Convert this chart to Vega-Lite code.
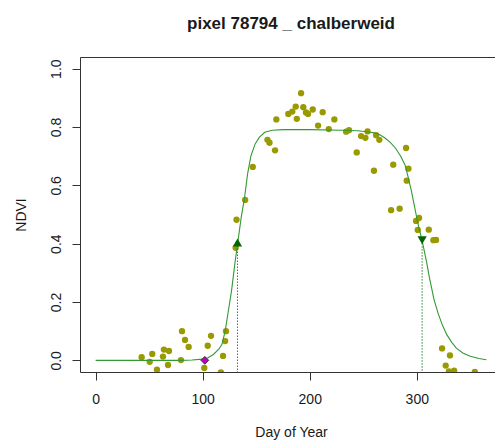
{
  "$schema": "https://vega.github.io/schema/vega-lite/v6.json",
  "autosize": {"type": "none"},
  "width": 422,
  "height": 315,
  "padding": {"left": 80, "top": 57, "right": -7, "bottom": 69},
  "background": "white",
  "config": {
    "font": "Liberation Sans",
    "view": {"stroke": "#333", "strokeWidth": 1},
    "axis": {
      "grid": false, "domain": false, "tickColor": "#333", "tickSize": 8,
      "labelFont": "Liberation Sans", "labelFontSize": 14, "labelColor": "#1a1a1a",
      "titleFont": "Liberation Sans", "titleFontSize": 14, "titleFontWeight": "normal", "titleColor": "#1a1a1a"
    }
  },
  "title": {
    "text": "pixel 78794 _ chalberweid",
    "font": "Liberation Sans", "fontSize": 17, "fontWeight": "bold", "color": "#1a1a1a",
    "anchor": "middle", "frame": "group", "baseline": "alphabetic", "offset": 11
  },
  "datasets": {
    "obs": [
      {"day": 43.0, "ndvi": 0.011}, {"day": 50.5, "ndvi": -0.005}, {"day": 52.9, "ndvi": 0.022},
      {"day": 57.3, "ndvi": -0.032}, {"day": 62.9, "ndvi": 0.013}, {"day": 63.8, "ndvi": 0.037},
      {"day": 68.5, "ndvi": 0.032}, {"day": 67.6, "ndvi": -0.016}, {"day": 80.7, "ndvi": 0.100},
      {"day": 83.5, "ndvi": 0.070}, {"day": 86.9, "ndvi": 0.046}, {"day": 79.7, "ndvi": 0.001},
      {"day": 101.5, "ndvi": -0.026}, {"day": 104.7, "ndvi": 0.050}, {"day": 107.8, "ndvi": 0.084},
      {"day": 117.0, "ndvi": -0.041}, {"day": 119.0, "ndvi": 0.015}, {"day": 121.0, "ndvi": 0.066},
      {"day": 121.8, "ndvi": 0.100}, {"day": 130.8, "ndvi": 0.386}, {"day": 131.6, "ndvi": 0.482},
      {"day": 139.7, "ndvi": 0.550}, {"day": 146.8, "ndvi": 0.663}, {"day": 160.5, "ndvi": 0.756},
      {"day": 162.4, "ndvi": 0.746}, {"day": 167.6, "ndvi": 0.720}, {"day": 168.8, "ndvi": 0.826},
      {"day": 180.0, "ndvi": 0.845}, {"day": 183.7, "ndvi": 0.853}, {"day": 186.9, "ndvi": 0.870},
      {"day": 187.9, "ndvi": 0.828}, {"day": 191.9, "ndvi": 0.916}, {"day": 194.0, "ndvi": 0.868},
      {"day": 196.5, "ndvi": 0.850}, {"day": 198.4, "ndvi": 0.845}, {"day": 202.8, "ndvi": 0.860},
      {"day": 207.8, "ndvi": 0.805}, {"day": 212.1, "ndvi": 0.851}, {"day": 217.8, "ndvi": 0.793},
      {"day": 223.0, "ndvi": 0.826}, {"day": 234.0, "ndvi": 0.784}, {"day": 236.7, "ndvi": 0.789},
      {"day": 243.9, "ndvi": 0.713}, {"day": 248.0, "ndvi": 0.769}, {"day": 252.0, "ndvi": 0.763},
      {"day": 254.0, "ndvi": 0.785}, {"day": 260.0, "ndvi": 0.650}, {"day": 262.0, "ndvi": 0.772},
      {"day": 265.0, "ndvi": 0.756}, {"day": 276.0, "ndvi": 0.515}, {"day": 278.0, "ndvi": 0.671},
      {"day": 284.0, "ndvi": 0.520}, {"day": 290.0, "ndvi": 0.728}, {"day": 290.6, "ndvi": 0.616},
      {"day": 292.2, "ndvi": 0.657}, {"day": 299.3, "ndvi": 0.478}, {"day": 302.1, "ndvi": 0.488},
      {"day": 300.9, "ndvi": 0.447}, {"day": 311.2, "ndvi": 0.448}, {"day": 315.5, "ndvi": 0.412},
      {"day": 318.0, "ndvi": 0.413}, {"day": 323.6, "ndvi": 0.041}, {"day": 331.0, "ndvi": 0.017},
      {"day": 327.0, "ndvi": -0.018}, {"day": 330.0, "ndvi": -0.038}, {"day": 334.9, "ndvi": -0.035},
      {"day": 354.2, "ndvi": -0.040}
    ],
    "curve": [
      {"day": 0, "ndvi": 0.0}, {"day": 20, "ndvi": 0.0}, {"day": 40, "ndvi": 0.0}, {"day": 60, "ndvi": 0.0},
      {"day": 80, "ndvi": 0.0}, {"day": 90, "ndvi": 0.001}, {"day": 100, "ndvi": 0.004}, {"day": 105, "ndvi": 0.009},
      {"day": 110, "ndvi": 0.02}, {"day": 115, "ndvi": 0.038}, {"day": 118, "ndvi": 0.055}, {"day": 121, "ndvi": 0.10},
      {"day": 124, "ndvi": 0.17}, {"day": 127, "ndvi": 0.24}, {"day": 130, "ndvi": 0.33}, {"day": 133, "ndvi": 0.41},
      {"day": 136, "ndvi": 0.49}, {"day": 139, "ndvi": 0.555}, {"day": 142, "ndvi": 0.64}, {"day": 145, "ndvi": 0.70},
      {"day": 149, "ndvi": 0.742}, {"day": 153, "ndvi": 0.765}, {"day": 158, "ndvi": 0.782}, {"day": 165, "ndvi": 0.789},
      {"day": 175, "ndvi": 0.791}, {"day": 200, "ndvi": 0.791}, {"day": 230, "ndvi": 0.789}, {"day": 245, "ndvi": 0.787},
      {"day": 255, "ndvi": 0.783}, {"day": 260, "ndvi": 0.780}, {"day": 265, "ndvi": 0.774}, {"day": 270, "ndvi": 0.763},
      {"day": 275, "ndvi": 0.748}, {"day": 280, "ndvi": 0.728}, {"day": 285, "ndvi": 0.700}, {"day": 289, "ndvi": 0.67},
      {"day": 292, "ndvi": 0.627}, {"day": 295, "ndvi": 0.58}, {"day": 298, "ndvi": 0.525}, {"day": 301, "ndvi": 0.47},
      {"day": 305, "ndvi": 0.41}, {"day": 309, "ndvi": 0.34}, {"day": 312, "ndvi": 0.28}, {"day": 316, "ndvi": 0.21},
      {"day": 320, "ndvi": 0.16}, {"day": 324, "ndvi": 0.12}, {"day": 328, "ndvi": 0.088}, {"day": 333, "ndvi": 0.06},
      {"day": 337, "ndvi": 0.042}, {"day": 343, "ndvi": 0.025}, {"day": 350, "ndvi": 0.014}, {"day": 358, "ndvi": 0.006},
      {"day": 365, "ndvi": 0.002}
    ],
    "events": [
      {"day": 132.5, "ndvi": 0.404, "event": "SOS"},
      {"day": 305.0, "ndvi": 0.412, "event": "EOS"}
    ],
    "start": [
      {"day": 102, "ndvi": 0.0}
    ]
  },
  "encoding": {
    "x": {
      "field": "day", "type": "quantitative",
      "scale": {"domain": [-14.6, 379.6], "nice": false, "zero": false},
      "axis": {"values": [0, 100, 200, 300], "title": "Day of Year", "labelPadding": 12, "titleBaseline": "alphabetic", "titlePadding": 30}
    },
    "y": {
      "field": "ndvi", "type": "quantitative",
      "scale": {"domain": [-0.04, 1.04], "nice": false, "zero": false},
      "axis": {"values": [0, 0.2, 0.4, 0.6, 0.8, 1.0], "format": ".1f", "title": "NDVI",
               "labelAngle": -90, "labelAlign": "center", "labelBaseline": "alphabetic", "labelPadding": 12,
               "titleBaseline": "alphabetic", "titlePadding": 24}
    }
  },
  "layer": [
    {
      "data": {"name": "obs"},
      "mark": {"type": "point", "filled": true, "shape": "circle", "size": 40, "color": "#999900", "opacity": 1, "clip": true}
    },
    {
      "data": {"name": "curve"},
      "mark": {"type": "line", "color": "#339933", "strokeWidth": 1.1, "clip": true}
    },
    {
      "data": {"name": "events"},
      "mark": {"type": "rule", "color": "#2a8a2a", "strokeWidth": 1, "strokeDash": [1.5, 1.5], "clip": true},
      "encoding": {"y2": {"datum": -0.05}}
    },
    {
      "data": {"name": "events"},
      "mark": {"type": "point", "filled": true, "size": 85, "color": "#006400", "opacity": 1},
      "encoding": {
        "shape": {"field": "event", "type": "nominal",
                  "scale": {"domain": ["SOS", "EOS"], "range": ["triangle-up", "triangle-down"]}, "legend": null}
      }
    },
    {
      "data": {"name": "start"},
      "mark": {"type": "point", "filled": true, "shape": "diamond", "size": 60, "fill": "#c000c0", "stroke": "#333", "strokeWidth": 1, "opacity": 1}
    }
  ]
}
